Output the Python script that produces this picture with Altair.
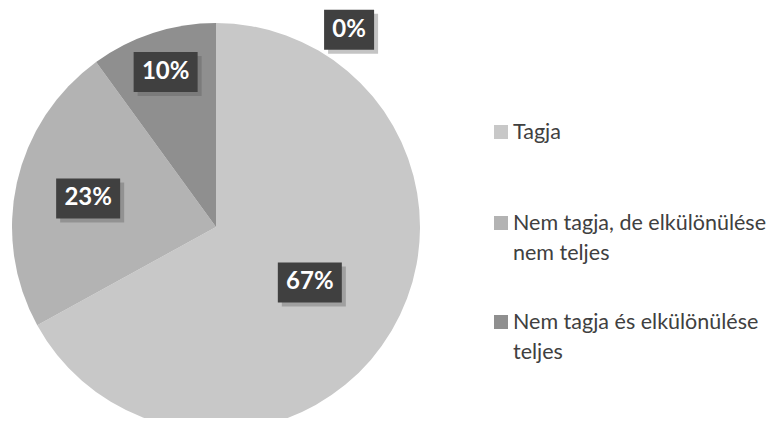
import altair as alt
import pandas as pd
import numpy as np

# ---- data ----
categories = ["Tagja",
              "Nem tagja, de elkülönülése nem teljes",
              "Nem tagja és elkülönülése teljes",
              "Egyéb"]
values = [67, 23, 10, 0]
pct_labels = ["67%", "23%", "10%", "0%"]
legend_texts = ["Tagja",
                "Nem tagja, de elkülönülése\nnem teljes",
                "Nem tagja és elkülönülése\nteljes"]
colors = ["#c8c8c8", "#b3b3b3", "#8f8f8f", "#707070"]

# ---- layout (styling, not data) ----
W, H = 763, 410
CX, CY, R = 208, 219, 204
label_radius = [109, 131, 163, 238]
label_angle_override = [None, None, None, 34]
box_h = 40
legend_sym_x = 493
legend_text_x = 505
legend_baselines = [131, 222, 321]
SYM = 14

total = float(sum(values))
cum = np.cumsum(values)
rows = []
for i, (c, v, lab) in enumerate(zip(categories, values, pct_labels)):
    mid = (cum[i] - v / 2.0) / total * 360.0
    if label_angle_override[i] is not None:
        mid = label_angle_override[i]
    a = np.deg2rad(mid)
    lx = CX + label_radius[i] * np.sin(a)
    ly = CY - label_radius[i] * np.cos(a)
    bw = 22 + 14 * len(lab)
    rows.append(dict(category=c, value=v, idx=i, label=lab,
                     lx=lx, ly=ly,
                     x1=lx - bw / 2, x2=lx + bw / 2,
                     y1=ly - box_h / 2, y2=ly + box_h / 2,
                     sx1=lx - bw / 2 + 4, sx2=lx + bw / 2 + 4,
                     sy1=ly - box_h / 2 + 4, sy2=ly + box_h / 2 + 4))
df = pd.DataFrame(rows)

leg_rows = []
for i, t in enumerate(legend_texts):
    leg_rows.append(dict(category=categories[i], text=t,
                         sx=legend_sym_x, sy=legend_baselines[i] - SYM / 2,
                         tx=legend_text_x, ty=legend_baselines[i]))
leg = pd.DataFrame(leg_rows)

color_scale = alt.Scale(domain=categories, range=colors)

pie = alt.Chart(df).mark_arc(outerRadius=R).encode(
    theta=alt.Theta("value:Q", stack=True),
    color=alt.Color("category:N", scale=color_scale, legend=None),
    order=alt.Order("idx:Q"),
    x=alt.value(CX), y=alt.value(CY),
)

X = lambda f: alt.X(f"{f}:Q", scale=None, axis=None)
Y = lambda f: alt.Y(f"{f}:Q", scale=None, axis=None)

shadow = alt.Chart(df).mark_rect(color="#555555", opacity=0.35).encode(
    x=X("sx1"), x2="sx2", y=Y("sy1"), y2="sy2")
box = alt.Chart(df).mark_rect(color="#404040").encode(
    x=X("x1"), x2="x2", y=Y("y1"), y2="y2")
txt = alt.Chart(df).mark_text(font="Lato", fontWeight="bold", fontSize=24,
                              color="white", align="center", baseline="middle").encode(
    x=X("lx"), y=Y("ly"), text="label:N")

sym = alt.Chart(leg).mark_square(size=SYM * SYM, opacity=1).encode(
    x=X("sx"), y=Y("sy"),
    color=alt.Color("category:N", scale=color_scale, legend=None))
ltxt = alt.Chart(leg).mark_text(font="Lato", fontSize=21.5, color="#404040",
                                align="left", baseline="alphabetic",
                                lineBreak="\n", lineHeight=30).encode(
    x=X("tx"), y=Y("ty"), text="text:N")

chart = alt.layer(pie, shadow, box, txt, sym, ltxt).properties(
    width=W, height=H, padding=0, autosize=alt.AutoSizeParams(type="none"),
    background="white"
).configure_view(stroke=None)

chart.save("out.html", embed_options={"renderer": "svg", "actions": False})
